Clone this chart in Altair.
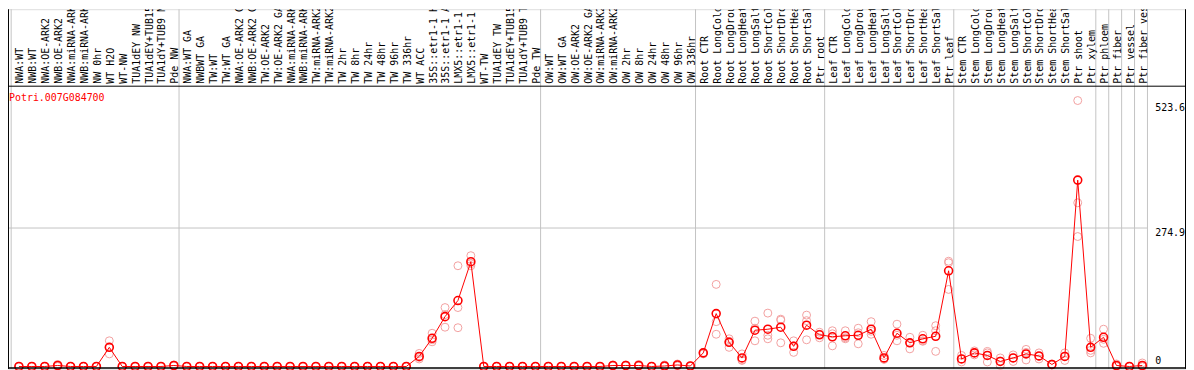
import altair as alt
import pandas as pd

labels = [
    "NWA:WT", "NWB:WT", "NWA:OE-ARK2", "NWB:OE-ARK2", "NWA:miRNA-ARK2", "NWB:miRNA-ARK2",
    "NW 0hr", "WT H2O", "WT-NW", "TUA1dEY NW", "TUA1dEY+TUB15 NW", "TUA1dY+TUB9 NW", "Pde NW",
    "NWA:WT GA", "NWBWT GA", "TW:WT", "TW:WT GA", "NWA:OE-ARK2 GA", "NWB:OE-ARK2 GA",
    "TW:OE-ARK2", "TW:OE-ARK2 GA", "NWA:miRNA-ARK2", "NWB:miRNA-ARK2", "TW:miRNA-ARK2",
    "TW:miRNA-ARK2", "TW 2hr", "TW 8hr", "TW 24hr", "TW 48hr", "TW 96hr", "TW 336hr",
    "WT ACC", "35S::etr1-1 H2O", "35S::etr1-1 ACC", "LMX5::etr1-1 H2O", "LMX5::etr1-1 ACC",
    "WT-TW", "TUA1dEY TW", "TUA1dEY+TUB15 TW", "TUA1dY+TUB9 TW", "Pde TW",
    "OW:WT", "OW:WT GA", "OW:OE-ARK2", "OW:OE-ARK2 GA", "OW:miRNA-ARK2", "OW:miRNA-ARK2",
    "OW 2hr", "OW 8hr", "OW 24hr", "OW 48hr", "OW 96hr", "OW 336hr",
    "Root CTR", "Root LongCold", "Root LongDrought", "Root LongHeat", "Root LongSalt",
    "Root ShortCold", "Root ShortDrought", "Root ShortHeat", "Root ShortSalt", "Ptr root",
    "Leaf CTR", "Leaf LongCold", "Leaf LongDrought", "Leaf LongHeat", "Leaf LongSalt",
    "Leaf ShortCold", "Leaf ShortDrought", "Leaf ShortHeat", "Leaf ShortSalt", "Ptr leaf",
    "Stem CTR", "Stem LongCold", "Stem LongDrought", "Stem LongHeat", "Stem LongSalt",
    "Stem ShortCold", "Stem ShortDrought", "Stem ShortHeat", "Stem ShortSalt", "Ptr shoot",
    "Ptr xylem", "Ptr phloem", "Ptr fiber", "Ptr vessel", "Ptr fiber vessel",
]

means = [
    0, 0, 0, 2, 0, 0, 0, 38, 0, 0, 0, 0, 2,
    0, 0, 0, 0, 0, 0, 0, 0, 0, 0, 0, 0, 0, 0, 0, 0, 0, 0,
    20, 56, 99, 131, 208, 0, 0, 0, 0, 0,
    0, 0, 0, 0, 0, 2, 2, 2, 0, 1, 3, 1,
    27, 105, 48, 17, 72, 74, 78, 40, 82, 63,
    59, 61, 62, 74, 17, 66, 47, 55, 60, 190,
    15, 27, 22, 10, 17, 25, 21, 4, 20, 370, 38,
    58, 2, 0, 2,
]

rep_a = [
    0, 0, 0, 4, 0, 0, 0, 51, 0, 0, 0, 0, 3,
    0, 0, 0, 0, 0, 0, 0, 0, 0, 0, 0, 0, 0, 0, 0, 0, 0, 0,
    26, 66, 117, 200, 220, 0, 0, 0, 0, 0,
    0, 0, 0, 0, 0, 3, 3, 4, 0, 3, 5, 1,
    28, 163, 55, 25, 90, 106, 94, 51, 102, 68,
    71, 71, 76, 89, 22, 84, 58, 62, 81, 209,
    22, 31, 30, 17, 23, 34, 27, 5, 27, 528, 56,
    74, 5, 0, 7,
]

rep_b = [
    0, 0, 0, 2, 0, 0, 0, 38, 0, 0, 0, 0, 2,
    0, 0, 0, 0, 0, 0, 0, 0, 0, 0, 0, 0, 0, 0, 0, 0, 0, 0,
    18, 53, 103, 117, 204, 0, 0, 0, 0, 0,
    0, 0, 0, 0, 0, 2, 2, 1, 0, 0, 3, 1,
    27, 89, 50, 13, 76, 62, 92, 41, 91, 64,
    65, 57, 67, 70, 15, 62, 47, 51, 71, 206,
    15, 27, 27, 11, 17, 28, 20, 4, 20, 325, 32,
    54, 1, 0, 0,
]

rep_c = [
    0, 0, 0, 0, 0, 0, 0, 25, 0, 0, 0, 0, 1,
    0, 0, 0, 0, 0, 0, 0, 0, 0, 0, 0, 0, 0, 0, 0, 0, 0, 0,
    15, 49, 78, 77, 200, 0, 0, 0, 0, 0,
    0, 0, 0, 0, 0, 1, 1, 1, 0, 0, 1, 0,
    25, 64, 38, 12, 51, 55, 47, 28, 53, 57,
    41, 55, 45, 64, 14, 51, 35, 50, 30, 153,
    9, 23, 9, 2, 10, 13, 15, 3, 12, 258, 27,
    46, 0, 0, 0,
]

group_sizes = [13, 28, 12, 10, 10, 11, 1, 1, 1, 1]
gene_id = "Potri.007G084700"
tick_values = [274.9, 523.6]
zero_tick = [0]

W, H = 1186, 362
FONT = "DejaVu Sans Mono"
RED = "#ff0000"
PINK = "#f2a0a0"
GRID = "#c4c4c4"

x_scale = alt.Scale(domain=[-0.846, 90.385], nice=False, zero=False)
y_scale = alt.Scale(domain=[-4.54, 709.3], nice=False, zero=False)

idx = list(range(len(labels)))
main_df = pd.DataFrame({"i": idx, "label": labels, "mean": means})
reps_df = pd.DataFrame({
    "i": idx * 3,
    "value": rep_a + rep_b + rep_c,
})

bounds = [-0.6]
acc = 0
for g in group_sizes:
    acc += g
    bounds.append(acc - 0.6)
bounds_df = pd.DataFrame({"b": bounds})
grid_df = pd.DataFrame({"v": tick_values[:1], "xs": [-0.846], "xe": [bounds[-1]]})
one = pd.DataFrame({"a": [0]})

X = lambda f: alt.X(f, scale=x_scale, axis=None)
Y = lambda f: alt.Y(f, scale=y_scale, axis=None)

vlines = alt.Chart(bounds_df).mark_rule(color=GRID, strokeWidth=1).encode(
    x=X("b:Q"), y=alt.value(0), y2=alt.value(H)
)
hgrid = alt.Chart(grid_df).mark_rule(color=GRID, strokeWidth=1).encode(
    x=X("xs:Q"), x2="xe:Q", y=Y("v:Q")
)
frame_top = alt.Chart(one).mark_rule(color="black", strokeWidth=1).encode(
    x=alt.value(0), x2=alt.value(W), y=alt.value(77.5)
)
frame_bottom = alt.Chart(one).mark_rule(color="black", strokeWidth=1.5).encode(
    x=alt.value(0), x2=alt.value(W), y=alt.value(361.2)
)
frame_left = alt.Chart(one).mark_rule(color="black", strokeWidth=1).encode(
    x=alt.value(0.5), y=alt.value(0), y2=alt.value(H)
)
frame_right = alt.Chart(one).mark_rule(color="black", strokeWidth=1).encode(
    x=alt.value(1185.5), y=alt.value(0), y2=alt.value(H)
)

header = alt.Chart(main_df).mark_text(
    angle=270, align="left", baseline="middle", font=FONT, fontSize=10,
    color="black", clip=True, dy=1.5
).encode(x=X("i:Q"), y=alt.value(75), text="label:N")

reps = alt.Chart(reps_df).mark_point(
    shape="circle", filled=False, size=64, strokeWidth=1, color=PINK, opacity=1
).encode(x=X("i:Q"), y=Y("value:Q"))

line = alt.Chart(main_df).mark_line(color=RED, strokeWidth=1).encode(
    x=X("i:Q"), y=Y("mean:Q")
)
pts = alt.Chart(main_df).mark_point(
    shape="circle", filled=False, size=64, strokeWidth=1.6, color=RED, opacity=1
).encode(x=X("i:Q"), y=Y("mean:Q"))

title = alt.Chart(pd.DataFrame({"t": [gene_id]})).mark_text(
    align="left", baseline="middle", font=FONT, fontSize=10, color=RED
).encode(x=alt.value(1), y=alt.value(89), text="t:N")

tick_df = pd.DataFrame({"v": tick_values, "pos": [88.0] * len(tick_values),
                        "txt": [f"{v:.1f}" for v in tick_values]})
zero_df = pd.DataFrame({"v": zero_tick, "pos": [88.0], "txt": ["0"]})
ylab = alt.Chart(tick_df).mark_text(
    align="left", baseline="top", font=FONT, fontSize=10, color="black", dy=0
).encode(x=X("pos:Q"), y=Y("v:Q"), text="txt:N")
ylab0 = alt.Chart(zero_df).mark_text(
    align="left", baseline="bottom", font=FONT, fontSize=10, color="black", dy=-1
).encode(x=X("pos:Q"), y=Y("v:Q"), text="txt:N")

chart = alt.layer(
    vlines, hgrid, header, title, ylab, ylab0,
    reps, line, pts,
    frame_top, frame_bottom, frame_left, frame_right,
).properties(
    width=W, height=H, padding=0,
    autosize=alt.AutoSizeParams(type="none"),
).configure_view(stroke=None).configure(background="white")

chart.save("out.html", embed_options={"renderer": "svg", "actions": False})
